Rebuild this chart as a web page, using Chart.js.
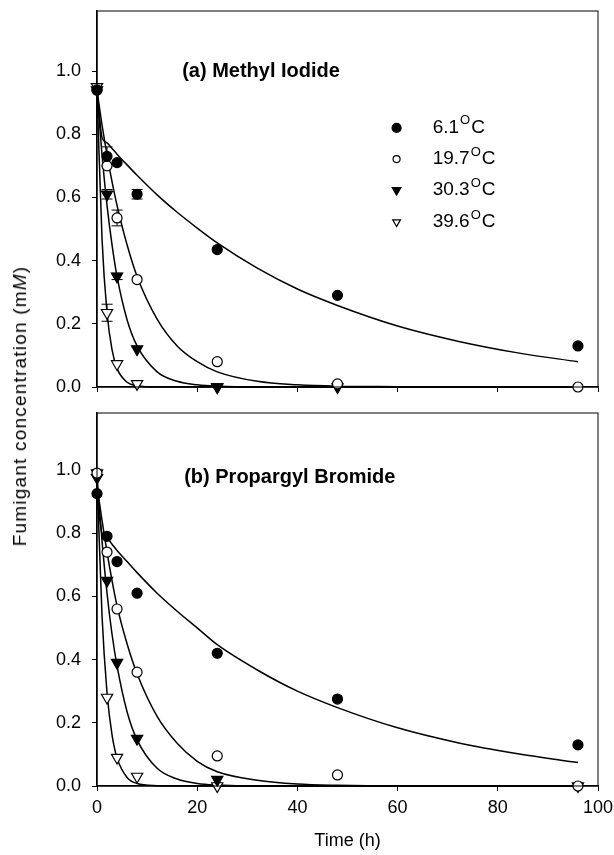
<!DOCTYPE html>
<html>
<head>
<meta charset="utf-8">
<script src="https://cdn.jsdelivr.net/npm/chart.js@4.4.1/dist/chart.umd.min.js"></script>
<style>
  html, body { margin: 0; padding: 0; background: #fff; }
  #wrap { position: relative; width: 614px; height: 855px; overflow: hidden; }
  #wrap canvas { position: absolute; left: 0; }
  #ytitle {
    position: absolute; left: 20px; top: 406px;
    transform: translate(-50%, -50%) rotate(-90deg);
    font: 19px "Liberation Sans", Arial, sans-serif; letter-spacing: 1.2px;
    color: #000; white-space: nowrap;
  }
</style>
</head>
<body>
<div id="wrap">
  <canvas id="graphA" width="614" height="400" style="top:0"></canvas>
  <canvas id="graphB" width="614" height="455" style="top:400px"></canvas>
  <div id="ytitle">Fumigant concentration (m<i>M</i>)</div>
</div>
<script>
// temps des mesures (h)
const times = [0, 2, 4, 8, 24, 48, 96];
const tempLabels = ['6.1', '19.7', '30.3', '39.6'];

// (a) Methyl Iodide - points mesures
const miT61  = [0.94, 0.73, 0.71, 0.61, 0.435, 0.29, 0.13];
const miT197 = [0.94, 0.70, 0.535, 0.34, 0.08, 0.01, 0.0];
const miT303 = [0.94, 0.61, 0.35, 0.12, 0.0, 0.0, null];
const miT396 = [0.95, 0.235, 0.073, 0.01, 0.0, null, null];
// barres d'erreur (a)
const miErr61  = [0, 0.03, 0, 0.015, 0, 0, 0];
const miErr197 = [0, 0, 0.025, 0, 0, 0, 0];
const miErr303 = [0, 0.015, 0.01, 0, 0, 0, 0];
const miErr396 = [0, 0.027, 0, 0, 0, 0, 0];

// (b) Propargyl Bromide - points mesures
const pbT61  = [0.925, 0.79, 0.71, 0.61, 0.42, 0.275, 0.13];
const pbT197 = [0.99, 0.74, 0.56, 0.36, 0.095, 0.035, 0.0];
const pbT303 = [0.975, 0.65, 0.39, 0.15, 0.02, null, null];
const pbT396 = [0.99, 0.28, 0.09, 0.03, 0.0, null, 0.0];

// courbes ajustees
const fitTimes = [0, 1, 2, 3, 4, 6, 8, 12, 16, 20, 24, 32, 40, 48, 60, 72, 84, 96];
const fitMi61  = [0.94, 0.79, 0.773, 0.755, 0.737, 0.703, 0.67, 0.608, 0.553, 0.503, 0.456, 0.376, 0.31, 0.258, 0.193, 0.145, 0.108, 0.08];
const fitMi197 = [0.94, 0.83, 0.735, 0.65, 0.575, 0.45, 0.35, 0.215, 0.13, 0.08, 0.048, 0.018, 0.007, 0.0025, 0.001, 0, 0, 0];
const fitMi303 = [0.94, 0.735, 0.575, 0.45, 0.35, 0.213, 0.13, 0.048, 0.018, 0.007, 0.0025, 0, 0, 0, 0, 0, 0, 0];
const fitMi396 = [0.94, 0.47, 0.235, 0.118, 0.059, 0.015, 0.004, 0, 0, 0, 0, 0, 0, 0, 0, 0, 0, 0];
const fitPb61  = [0.92, 0.80, 0.785, 0.765, 0.745, 0.71, 0.675, 0.61, 0.553, 0.50, 0.447, 0.367, 0.30, 0.248, 0.184, 0.137, 0.102, 0.074];
const fitPb197 = [0.95, 0.84, 0.74, 0.65, 0.57, 0.45, 0.355, 0.22, 0.135, 0.078, 0.045, 0.018, 0.006, 0.002, 0, 0, 0, 0];
const fitPb303 = [0.98, 0.775, 0.61, 0.48, 0.38, 0.235, 0.146, 0.056, 0.022, 0.008, 0.003, 0, 0, 0, 0, 0, 0, 0];
const fitPb396 = [0.98, 0.54, 0.295, 0.162, 0.089, 0.027, 0.008, 0.001, 0, 0, 0, 0, 0, 0, 0, 0, 0, 0];

Chart.defaults.font.family = '"Liberation Sans", Arial, sans-serif';
Chart.defaults.color = '#000';

function toXY(xs, ys) {
  const out = [];
  xs.forEach((x, i) => { if (ys[i] !== null) out.push({ x: x, y: ys[i] }); });
  return out;
}

// styles des marqueurs, dans l'ordre 6.1 / 19.7 / 30.3 / 39.6
const markerStyles = [
  { pointStyle: 'circle', rotation: 0, radius: 5, fill: '#000' },
  { pointStyle: 'circle', rotation: 0, radius: 5, fill: '#fff' },
  { pointStyle: 'triangle', rotation: 180, radius: 6.5, fill: '#000' },
  { pointStyle: 'triangle', rotation: 180, radius: 6.5, fill: '#fff' }
];

function getPointDatasets(series, errors) {
  return series.map((vals, i) => ({
    data: toXY(times, vals),
    errors: errors ? errors[i].filter((e, j) => vals[j] !== null) : null,
    showLine: false,
    pointStyle: markerStyles[i].pointStyle,
    rotation: markerStyles[i].rotation,
    pointRadius: markerStyles[i].radius,
    pointBackgroundColor: markerStyles[i].fill,
    pointBorderColor: '#000',
    pointBorderWidth: 1.2,
    clip: false
  }));
}

function getCurveDatasets(curves) {
  return curves.map(vals => ({
    data: toXY(fitTimes, vals),
    showLine: true,
    borderColor: '#000',
    borderWidth: 1.5,
    pointRadius: 0,
    cubicInterpolationMode: 'monotone',
    clip: false
  }));
}

// cadre complet autour de la zone de trace
const framePlugin = {
  id: 'frame',
  afterDraw(chart) {
    const { ctx, chartArea: a } = chart;
    ctx.save();
    ctx.strokeStyle = '#000';
    ctx.lineWidth = 1;
    ctx.strokeRect(a.left, a.top, a.right - a.left, a.bottom - a.top);
    ctx.restore();
  }
};

const errorBarPlugin = {
  id: 'errorBars',
  beforeDatasetsDraw(chart) {
    const ctx = chart.ctx, y = chart.scales.y;
    chart.data.datasets.forEach((ds, i) => {
      if (!ds.errors) return;
      const meta = chart.getDatasetMeta(i);
      meta.data.forEach((pt, j) => {
        const e = ds.errors[j];
        if (!e) return;
        const v = ds.data[j].y;
        const t = y.getPixelForValue(v + e), b = y.getPixelForValue(v - e);
        ctx.save();
        ctx.strokeStyle = '#000';
        ctx.lineWidth = 1;
        ctx.beginPath();
        ctx.moveTo(pt.x, t); ctx.lineTo(pt.x, b);
        ctx.moveTo(pt.x - 5.5, t); ctx.lineTo(pt.x + 5.5, t);
        ctx.moveTo(pt.x - 5.5, b); ctx.lineTo(pt.x + 5.5, b);
        ctx.stroke();
        ctx.restore();
      });
    });
  }
};

const titlePlugin = {
  id: 'panelTitle',
  afterDraw(chart, args, opts) {
    if (!opts.text) return;
    const { ctx, scales: { x, y } } = chart;
    ctx.save();
    ctx.font = 'bold 20px "Liberation Sans", Arial, sans-serif';
    ctx.fillStyle = '#000';
    ctx.textBaseline = 'middle';
    ctx.fillText(opts.text, x.getPixelForValue(opts.x), y.getPixelForValue(opts.y));
    ctx.restore();
  }
};

const legendPlugin = {
  id: 'tempLegend',
  afterDraw(chart, args, opts) {
    if (!opts.rows) return;
    const { ctx, scales: { x, y } } = chart;
    const mx = x.getPixelForValue(opts.markerX);
    const tx = x.getPixelForValue(opts.textX);
    opts.rows.forEach((rowY, i) => {
      const py = y.getPixelForValue(rowY);
      const st = markerStyles[i];
      ctx.save();
      ctx.fillStyle = st.fill;
      ctx.strokeStyle = '#000';
      Chart.helpers.drawPoint(ctx, {
        pointStyle: st.pointStyle, rotation: st.rotation,
        radius: opts.radius[i], borderWidth: 1
      }, mx, py);
      ctx.fillStyle = '#000';
      ctx.textBaseline = 'middle';
      ctx.font = '19px "Liberation Sans", Arial, sans-serif';
      ctx.fillText(tempLabels[i], tx, py);
      let cx = tx + ctx.measureText(tempLabels[i]).width + 1;
      ctx.font = '13px "Liberation Sans", Arial, sans-serif';
      ctx.fillText('O', cx, py - 7);
      cx += ctx.measureText('O').width + 1;
      ctx.font = '19px "Liberation Sans", Arial, sans-serif';
      ctx.fillText('C', cx, py);
      ctx.restore();
    });
  }
};

function getScales(ymax, xHeight, showX) {
  const gridOpts = { drawOnChartArea: false, drawTicks: true, tickLength: 5, color: '#000', lineWidth: 1 };
  const borderOpts = { display: true, color: '#000', width: 1.5 };
  return {
    x: {
      type: 'linear', min: 0, max: 100,
      afterFit: s => { s.height = xHeight; s.paddingLeft = 0; s.paddingRight = 0; },
      ticks: { stepSize: 20, display: showX, padding: 6, font: { size: 18 }, color: '#000' },
      title: { display: showX, text: 'Time (h)', font: { size: 18 }, color: '#000', padding: { top: 6, bottom: 3 } },
      grid: gridOpts, border: borderOpts
    },
    y: {
      min: 0, max: ymax,
      afterBuildTicks: s => { s.ticks = s.ticks.filter(t => t.value <= 1.0001); },
      afterFit: s => { s.width = 97; s.paddingTop = 0; s.paddingBottom = 0; },
      ticks: { stepSize: 0.2, padding: 11, font: { size: 18 }, color: '#000', callback: v => v.toFixed(1) },
      grid: gridOpts, border: borderOpts
    }
  };
}

new Chart(document.getElementById('graphA'), {
  type: 'scatter',
  data: {
    datasets: getPointDatasets([miT61, miT197, miT303, miT396], [miErr61, miErr197, miErr303, miErr396])
      .concat(getCurveDatasets([fitMi61, fitMi197, fitMi303, fitMi396]))
  },
  options: {
    responsive: false, animation: false, devicePixelRatio: 1,
    layout: { padding: { top: 11, right: 16, left: 0, bottom: 0 } },
    plugins: {
      legend: { display: false }, tooltip: { enabled: false },
      panelTitle: { text: '(a) Methyl Iodide', x: 17, y: 0.997 },
      tempLegend: { markerX: 59.8, textX: 67, rows: [0.82, 0.7215, 0.623, 0.522], radius: [4.5, 3.5, 5, 4.5] }
    },
    scales: getScales(1.19, 13, false)
  },
  plugins: [framePlugin, errorBarPlugin, titlePlugin, legendPlugin]
});

new Chart(document.getElementById('graphB'), {
  type: 'scatter',
  data: {
    datasets: getPointDatasets([pbT61, pbT197, pbT303, pbT396], null)
      .concat(getCurveDatasets([fitPb61, fitPb197, fitPb303, fitPb396]))
  },
  options: {
    responsive: false, animation: false, devicePixelRatio: 1,
    layout: { padding: { top: 13, right: 16, left: 0, bottom: 0 } },
    plugins: {
      legend: { display: false }, tooltip: { enabled: false },
      panelTitle: { text: '(b) Propargyl Bromide', x: 17.4, y: 0.975 }
    },
    scales: getScales(1.18, 69, true)
  },
  plugins: [framePlugin, errorBarPlugin, titlePlugin]
});
</script>
</body>
</html>
